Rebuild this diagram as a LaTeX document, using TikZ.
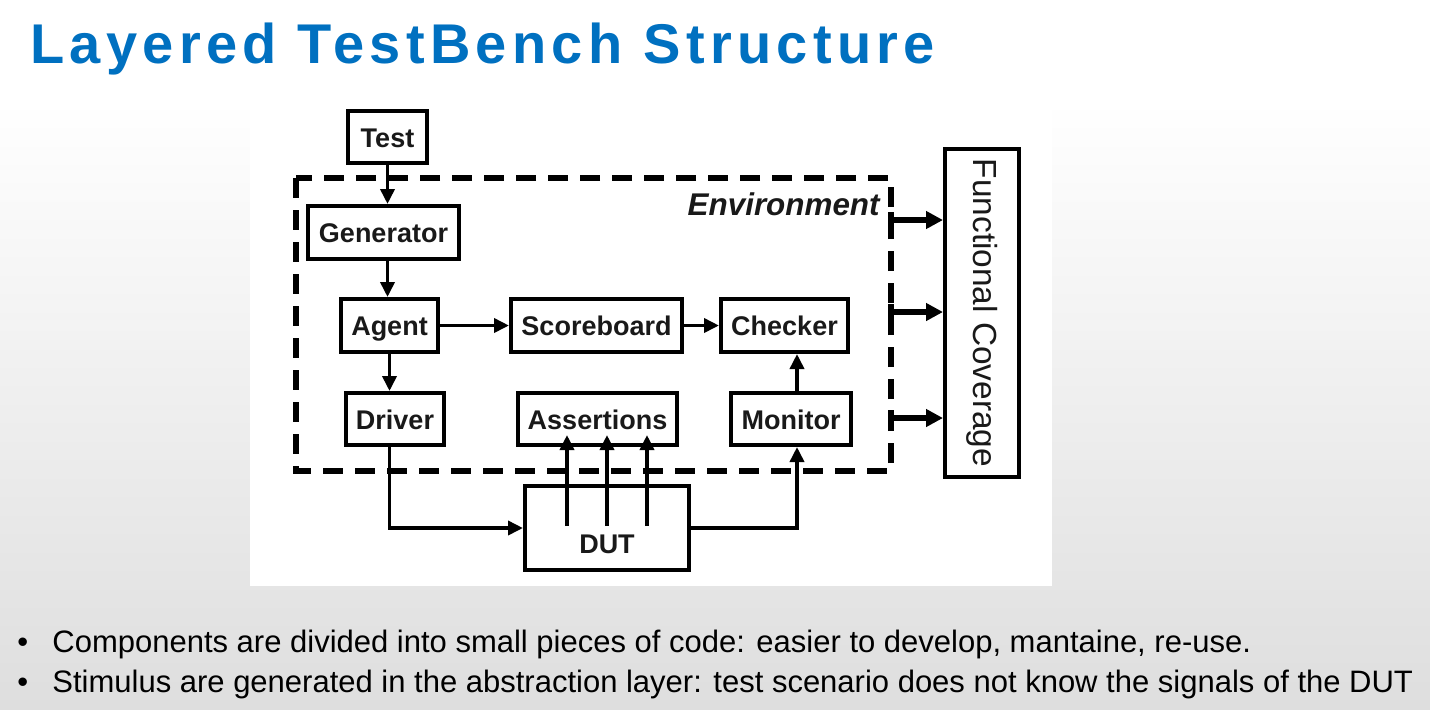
\documentclass[tikz,border=0pt]{standalone}
\usepackage{fontspec}
\setmainfont{Liberation Sans}
\usetikzlibrary{arrows.meta,calc}
\definecolor{titleblue}{RGB}{0,112,192}
\definecolor{bggray}{RGB}{222,222,222}
\definecolor{ink}{RGB}{25,25,25}
\begin{document}
\begin{tikzpicture}[x=0.5pt,y=-0.5pt,
  blk/.style={draw=black,line width=2pt,fill=white,inner sep=0pt,text=ink,
    text height=10pt,text depth=0pt,
    font=\fontsize{13.5pt}{16pt}\selectfont\bfseries},
  arr/.style={line width=1.8pt,-{Triangle[length=7.5pt,width=7pt]}},
  bigarr/.style={line width=2.6pt,-{Triangle[length=8.5pt,width=8.5pt]}},
  envbox/.style={draw=black,line width=2.6pt,dash pattern=on 10pt off 6pt},
  bodytext/.style={anchor=base west,inner sep=0pt,text=black,
    font=\fontsize{15.5pt}{18pt}\selectfont}]
% background
\useasboundingbox (0,0) rectangle (1430,709);
\fill[white] (0,0) rectangle (1430,100);
\shade[top color=white,bottom color=bggray] (0,100) rectangle (1430,709);
\fill[white] (250,85) rectangle (1052,586);
% title
\node[anchor=base west,inner sep=0pt,text=titleblue,
  font=\fontsize{28pt}{32pt}\selectfont\bfseries\addfontfeatures{LetterSpace=9.5}]
  (title) at (30,63) {Layered TestBench Structure};
% environment
\draw[envbox] (296,178) rectangle (891,471);
\node[anchor=base east,inner sep=0pt,text=ink,
  font=\fontsize{15.7pt}{18pt}\selectfont\bfseries\itshape] (envlbl) at (880,215) {Environment};
% blocks
\node[blk,minimum width=39.5pt,minimum height=26pt] (test) at (387.5,137) {Test};
\node[blk,minimum width=75.5pt,minimum height=26.5pt] (gen) at (383.5,232.5) {Generator};
\node[blk,minimum width=48.5pt,minimum height=26.5pt] (agent) at (389.5,325.5) {Agent};
\node[blk,minimum width=85.5pt,minimum height=26.5pt] (score) at (596.5,325.5) {Scoreboard};
\node[blk,minimum width=63.5pt,minimum height=26.5pt] (check) at (784.5,325.5) {Checker};
\node[blk,minimum width=49pt,minimum height=26pt] (driver) at (395,419) {Driver};
\node[blk,minimum width=79.5pt,minimum height=26pt] (assert) at (597.5,419) {Assertions};
\node[blk,minimum width=60pt,minimum height=26pt] (monitor) at (791,419) {Monitor};
\node[draw=black,line width=2pt,fill=white,minimum width=82pt,minimum height=42pt] (dut) at (607,528) {};
\node[anchor=base,inner sep=0pt,text=ink,font=\fontsize{13.5pt}{16pt}\selectfont\bfseries] (dutlbl) at (607,553) {DUT};
\node[draw=black,line width=2pt,fill=white,inner sep=0pt,minimum width=37pt,minimum height=164pt] (fc) at (982,313) {};
\node[rotate=-90,inner sep=0pt,text=ink,font=\fontsize{16.7pt}{18pt}\selectfont] (fclbl) at (fc.center) {Functional Coverage};
% connectors
\draw[arr] (test.south) -- (test.south |- gen.north);
\draw[arr] (test.south |- gen.south) -- (test.south |- agent.north);
\draw[arr] (agent.east) -- (score.west);
\draw[arr] (score.east) -- (check.west);
\draw[arr] (agent.south) -- (agent.south |- driver.north);
\draw[arr] (agent.south |- driver.south) |- (dut.west);
\coordinate (mx) at (797,0);
\draw[arr] (dut.east) -| (mx |- monitor.south);
\draw[arr] (mx |- monitor.north) -- (mx |- check.south);
\foreach \x [count=\i] in {567,607,647}{
  \coordinate (a\i) at (\x,526);
  \draw[arr] (a\i) -- ([yshift=6pt]a\i |- assert.south);
}
% environment to functional coverage
\foreach \y [count=\i] in {220,312,418}{
  \coordinate (e\i) at (891,\y);
  \draw[line width=2.6pt] ([yshift=4pt]e\i) -- ([yshift=-4pt]e\i);
  \draw[bigarr] (e\i) -- (e\i -| fc.west);
}
% bullets
\node[bodytext] (b1dot) at (17,652) {•};
\node[bodytext] (b1) at (52,652) {Components are divided into small pieces of code: easier to develop, mantaine, re-use.};
\node[bodytext] (b2dot) at (17,692) {•};
\node[bodytext] (b2) at (52,692) {Stimulus are generated in the abstraction layer: test scenario does not know the signals of the DUT};
\end{tikzpicture}
\end{document}
